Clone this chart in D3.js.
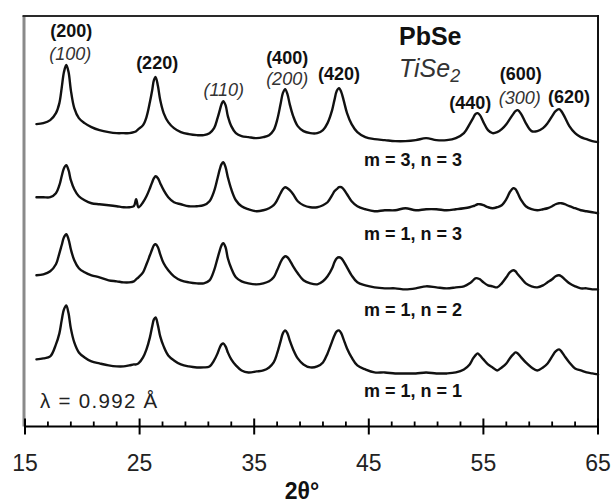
<!DOCTYPE html>
<html>
<head>
<meta charset="utf-8">
<script src="https://cdn.jsdelivr.net/npm/d3@7"></script>
<style>
  html, body { margin: 0; padding: 0; background: #fff; }
  svg { display: block; font-family: "Liberation Sans", Arial, sans-serif; }
</style>
</head>
<body>
<svg id="chart" width="614" height="503"></svg>
<script>
// Diffraction angle grid (degrees 2θ), shared by all patterns
const twoTheta = [
  16.0, 16.6, 17.2, 17.7, 18.0, 18.2, 18.4, 18.6, 18.8, 19.0, 19.3, 19.7,
  20.2, 20.8, 21.5, 22.3, 23.0, 23.6, 24.1, 24.5, 24.7, 24.9,
  25.3, 25.6, 25.9, 26.1, 26.25, 26.4, 26.6, 26.8, 27.1, 27.5,
  28.0, 28.6, 29.3, 30.0, 30.6, 31.1, 31.5, 31.8,
  32.0, 32.15, 32.3, 32.5, 32.7, 33.0, 33.4, 33.9,
  34.5, 35.2, 35.8, 36.3, 36.7, 37.0, 37.3,
  37.5, 37.7, 37.9, 38.1, 38.4, 38.8, 39.3,
  39.9, 40.5, 41.0, 41.4, 41.8, 42.0, 42.2,
  42.4, 42.6, 42.8, 43.1, 43.5, 44.0, 44.7,
  45.5, 46.4, 47.3, 48.2, 49.1, 50.0, 50.9, 51.8, 52.6, 53.3,
  53.8, 54.1, 54.3, 54.5, 54.7, 55.0, 55.4, 55.8, 56.2,
  56.6, 57.0, 57.3, 57.6, 57.8, 58.0, 58.3, 58.7, 59.2,
  59.7, 60.2, 60.6, 61.0, 61.3, 61.6, 61.8, 62.1, 62.5,
  63.0, 63.5, 64.0, 64.5, 65.0
];

// Intensities (a.u.) for each sample, relative to its own stacking offset
const m3n3 = [
  19, 20, 23, 30, 40, 55, 71, 78, 71, 53, 35, 25,
  20, 16, 13, 11, 10, 10, 10, 11, 12, 14,
  18, 26, 41, 53, 63, 66, 57, 43, 30, 21,
  15, 11, 9, 8, 8, 10, 15, 25,
  33, 39, 42, 38, 27, 17, 10, 7,
  6, 5, 6, 8, 13, 23, 39,
  50, 54, 49, 39, 27, 17, 12,
  10, 10, 13, 20, 33, 43, 52,
  55, 51, 43, 30, 19, 11, 6,
  4, 3, 2, 2, 3, 5, 3, 3, 5, 10,
  19, 25, 29, 30, 28, 21, 13, 10, 11,
  14, 19, 24, 29, 32, 33, 29, 20, 12,
  12, 15, 20, 27, 32, 34, 32, 26, 17,
  10, 6, 4, 2, 1
];
const m1n3 = [
  17, 17, 17, 21, 29, 38, 46, 49, 44, 34, 25, 18,
  14, 11, 10, 9, 8, 7, 7, 8, 15, 7,
  12, 18, 26, 32, 36, 38, 36, 31, 24, 17,
  12, 10, 8, 8, 9, 13, 23, 36,
  45, 50, 52, 47, 37, 25, 14, 8,
  5, 3, 4, 6, 9, 14, 21,
  25, 27, 26, 24, 20, 13, 9,
  7, 7, 9, 12, 19, 23, 25,
  27, 27, 25, 20, 13, 8, 5,
  3, 4, 4, 6, 4, 5, 5, 4, 5, 6,
  7, 8, 9, 10, 10, 9, 7, 6, 7,
  9, 15, 22, 26, 25, 21, 14, 8, 5,
  4, 5, 6, 8, 10, 11, 11, 10, 8,
  6, 4, 3, 2, 1
];
const m1n2 = [
  15, 16, 19, 26, 37, 45, 53, 56, 51, 41, 30, 22,
  18, 15, 13, 10, 9, 8, 8, 9, 11, 13,
  18, 26, 35, 41, 45, 46, 43, 36, 27, 20,
  14, 10, 8, 7, 7, 10, 20, 32,
  40, 45, 47, 43, 32, 22, 13, 9,
  7, 6, 7, 9, 13, 20, 28,
  32, 34, 33, 30, 24, 17, 10,
  7, 6, 9, 14, 22, 28, 32,
  33, 32, 29, 23, 15, 8, 5,
  3, 2, 2, 1, 2, 4, 3, 2, 3, 4,
  7, 10, 12, 12, 11, 8, 5, 4, 3,
  7, 13, 18, 20, 19, 16, 12, 7, 4,
  3, 5, 8, 11, 14, 15, 14, 11, 7,
  4, 2, 2, 1, 1
];
const m1n1 = [
  16, 17, 19, 31, 42, 55, 66, 70, 62, 47, 33, 23,
  18, 14, 12, 10, 9, 9, 10, 11, 11, 12,
  18, 26, 38, 49, 56, 58, 50, 39, 29, 20,
  15, 11, 9, 8, 8, 9, 15, 22,
  28, 31, 32, 29, 23, 16, 10, 5,
  3, 4, 5, 8, 13, 22, 34,
  42, 45, 42, 35, 26, 17, 11,
  8, 9, 13, 22, 34, 40, 44,
  45, 42, 36, 27, 18, 10, 6,
  3, 3, 2, 2, 2, 3, 2, 2, 3, 6,
  11, 17, 20, 22, 20, 16, 11, 8, 5,
  8, 12, 17, 21, 23, 22, 18, 13, 8,
  5, 8, 12, 19, 24, 26, 24, 19, 13,
  7, 5, 3, 2, 1
];

const patterns = [m3n3, m1n3, m1n2, m1n1];
const offsets = [283, 212, 136, 51];
const sampleLabels = ["m = 3, n = 3", "m = 1, n = 3", "m = 1, n = 2", "m = 1, n = 1"];

// Reflection indices
const pbseHkl = ["(200)", "(220)", "(400)", "(420)", "(440)", "(600)", "(620)"];
const pbsePeaks = [18.6, 26.4, 37.7, 42.4, 54.5, 58.0, 61.6];
const tise2Hkl = ["(100)", "(110)", "(200)", "(300)"];
const tise2Peaks = [18.6, 32.3, 37.7, 58.0];

const majorTicks = [15, 25, 35, 45, 55, 65];
const minorTicks = [17, 19, 21, 23, 27, 29, 31, 33, 37, 39, 41, 43, 47, 49, 51, 53, 57, 59, 61, 63];

const svg = d3.select("#chart");
const plotLeft = 25, plotRight = 598, plotTop = 16, plotBottom = 426.5;

const x = d3.scaleLinear().domain([15, 65]).range([plotLeft, plotRight]);
const y = d3.scaleLinear().domain([0, 410]).range([plotBottom, plotTop]);

// Frame: grey left edge, dark top and right edges
svg.append("line").attr("x1", plotLeft - 1).attr("x2", plotLeft - 1).attr("y1", plotTop).attr("y2", plotBottom)
  .attr("stroke", "#8a8a8a").attr("stroke-width", 3);
svg.append("line").attr("x1", plotLeft - 2.5).attr("x2", plotRight).attr("y1", plotTop).attr("y2", plotTop)
  .attr("stroke", "#2a2a2a").attr("stroke-width", 2);
svg.append("line").attr("x1", plotRight).attr("x2", plotRight).attr("y1", plotTop - 1).attr("y2", plotBottom)
  .attr("stroke", "#111").attr("stroke-width", 2);

// Bottom axis
const axisG = svg.append("g").attr("transform", `translate(0,${plotBottom})`);
axisG.append("line").attr("x1", plotLeft - 1).attr("x2", plotRight + 1).attr("y1", 0).attr("y2", 0)
  .attr("stroke", "#000").attr("stroke-width", 2);
axisG.selectAll(".major").data(majorTicks).join("line")
  .attr("x1", d => x(d)).attr("x2", d => x(d)).attr("y1", -8).attr("y2", 8)
  .attr("stroke", "#000").attr("stroke-width", 2);
axisG.selectAll(".minor").data(minorTicks).join("line")
  .attr("x1", d => x(d)).attr("x2", d => x(d)).attr("y1", -5).attr("y2", 0)
  .attr("stroke", "#000").attr("stroke-width", 1.8);
axisG.selectAll(".tlabel").data(majorTicks).join("text")
  .attr("x", d => x(d)).attr("y", 44)
  .attr("text-anchor", "middle").attr("font-size", 23).attr("fill", "#222")
  .text(d => d);

svg.append("text").attr("x", 302).attr("y", 498.5).attr("text-anchor", "middle")
  .attr("font-size", 23).attr("font-weight", "bold").attr("fill", "#111").text("2θ°");

// Patterns
const line = d3.line().curve(d3.curveCatmullRom.alpha(0.5));
patterns.forEach((vals, i) => {
  const pts = twoTheta.map((t, j) => [x(t), y(offsets[i] + vals[j])]);
  svg.append("path").attr("d", line(pts))
    .attr("fill", "none").attr("stroke", "#111").attr("stroke-width", 2.4)
    .attr("stroke-linejoin", "round").attr("stroke-linecap", "round");
});

// Sample labels
const sampleBaselines = [166, 239.5, 316, 397];
svg.selectAll(".slabel").data(sampleLabels).join("text")
  .attr("x", 413).attr("y", (d, i) => sampleBaselines[i])
  .attr("text-anchor", "middle").attr("font-size", 18).attr("font-weight", "bold").attr("fill", "#111")
  .text(d => d);

// Reflection labels: PbSe bold, TiSe2 italic
const pbseLayout = [[5, 37], [1.5, 68.5], [2, 63.5], [0, 79.5], [-7.5, 108.5], [3, 79.5], [10, 102.5]];
svg.selectAll(".hkl").data(pbseHkl).join("text")
  .attr("x", (d, i) => x(pbsePeaks[i]) + pbseLayout[i][0])
  .attr("y", (d, i) => pbseLayout[i][1])
  .attr("text-anchor", "middle").attr("font-size", 18).attr("font-weight", "bold").attr("fill", "#111")
  .text(d => d);
const tiseLayout = [[4, 60], [0.5, 95.5], [2, 84.5], [2, 103.5]];
svg.selectAll(".hkl2").data(tise2Hkl).join("text")
  .attr("x", (d, i) => x(tise2Peaks[i]) + tiseLayout[i][0])
  .attr("y", (d, i) => tiseLayout[i][1])
  .attr("text-anchor", "middle").attr("font-size", 18).attr("font-style", "italic").attr("fill", "#333")
  .text(d => d);

// Legend of phases
svg.append("text").attr("x", 399).attr("y", 45).attr("font-size", 25).attr("font-weight", "bold")
  .attr("fill", "#111").text("PbSe");
const tise = svg.append("text").attr("x", 399).attr("y", 77).attr("font-size", 25)
  .attr("font-style", "italic").attr("fill", "#333");
tise.append("tspan").text("TiSe");
tise.append("tspan").attr("dy", 5).attr("font-size", 18).text("2");

// Wavelength note
svg.append("text").attr("x", 40).attr("y", 407.5).attr("font-size", 20.5)
  .attr("letter-spacing", 1.3).attr("fill", "#222")
  .text("λ = 0.992 Å");
</script>
</body>
</html>
